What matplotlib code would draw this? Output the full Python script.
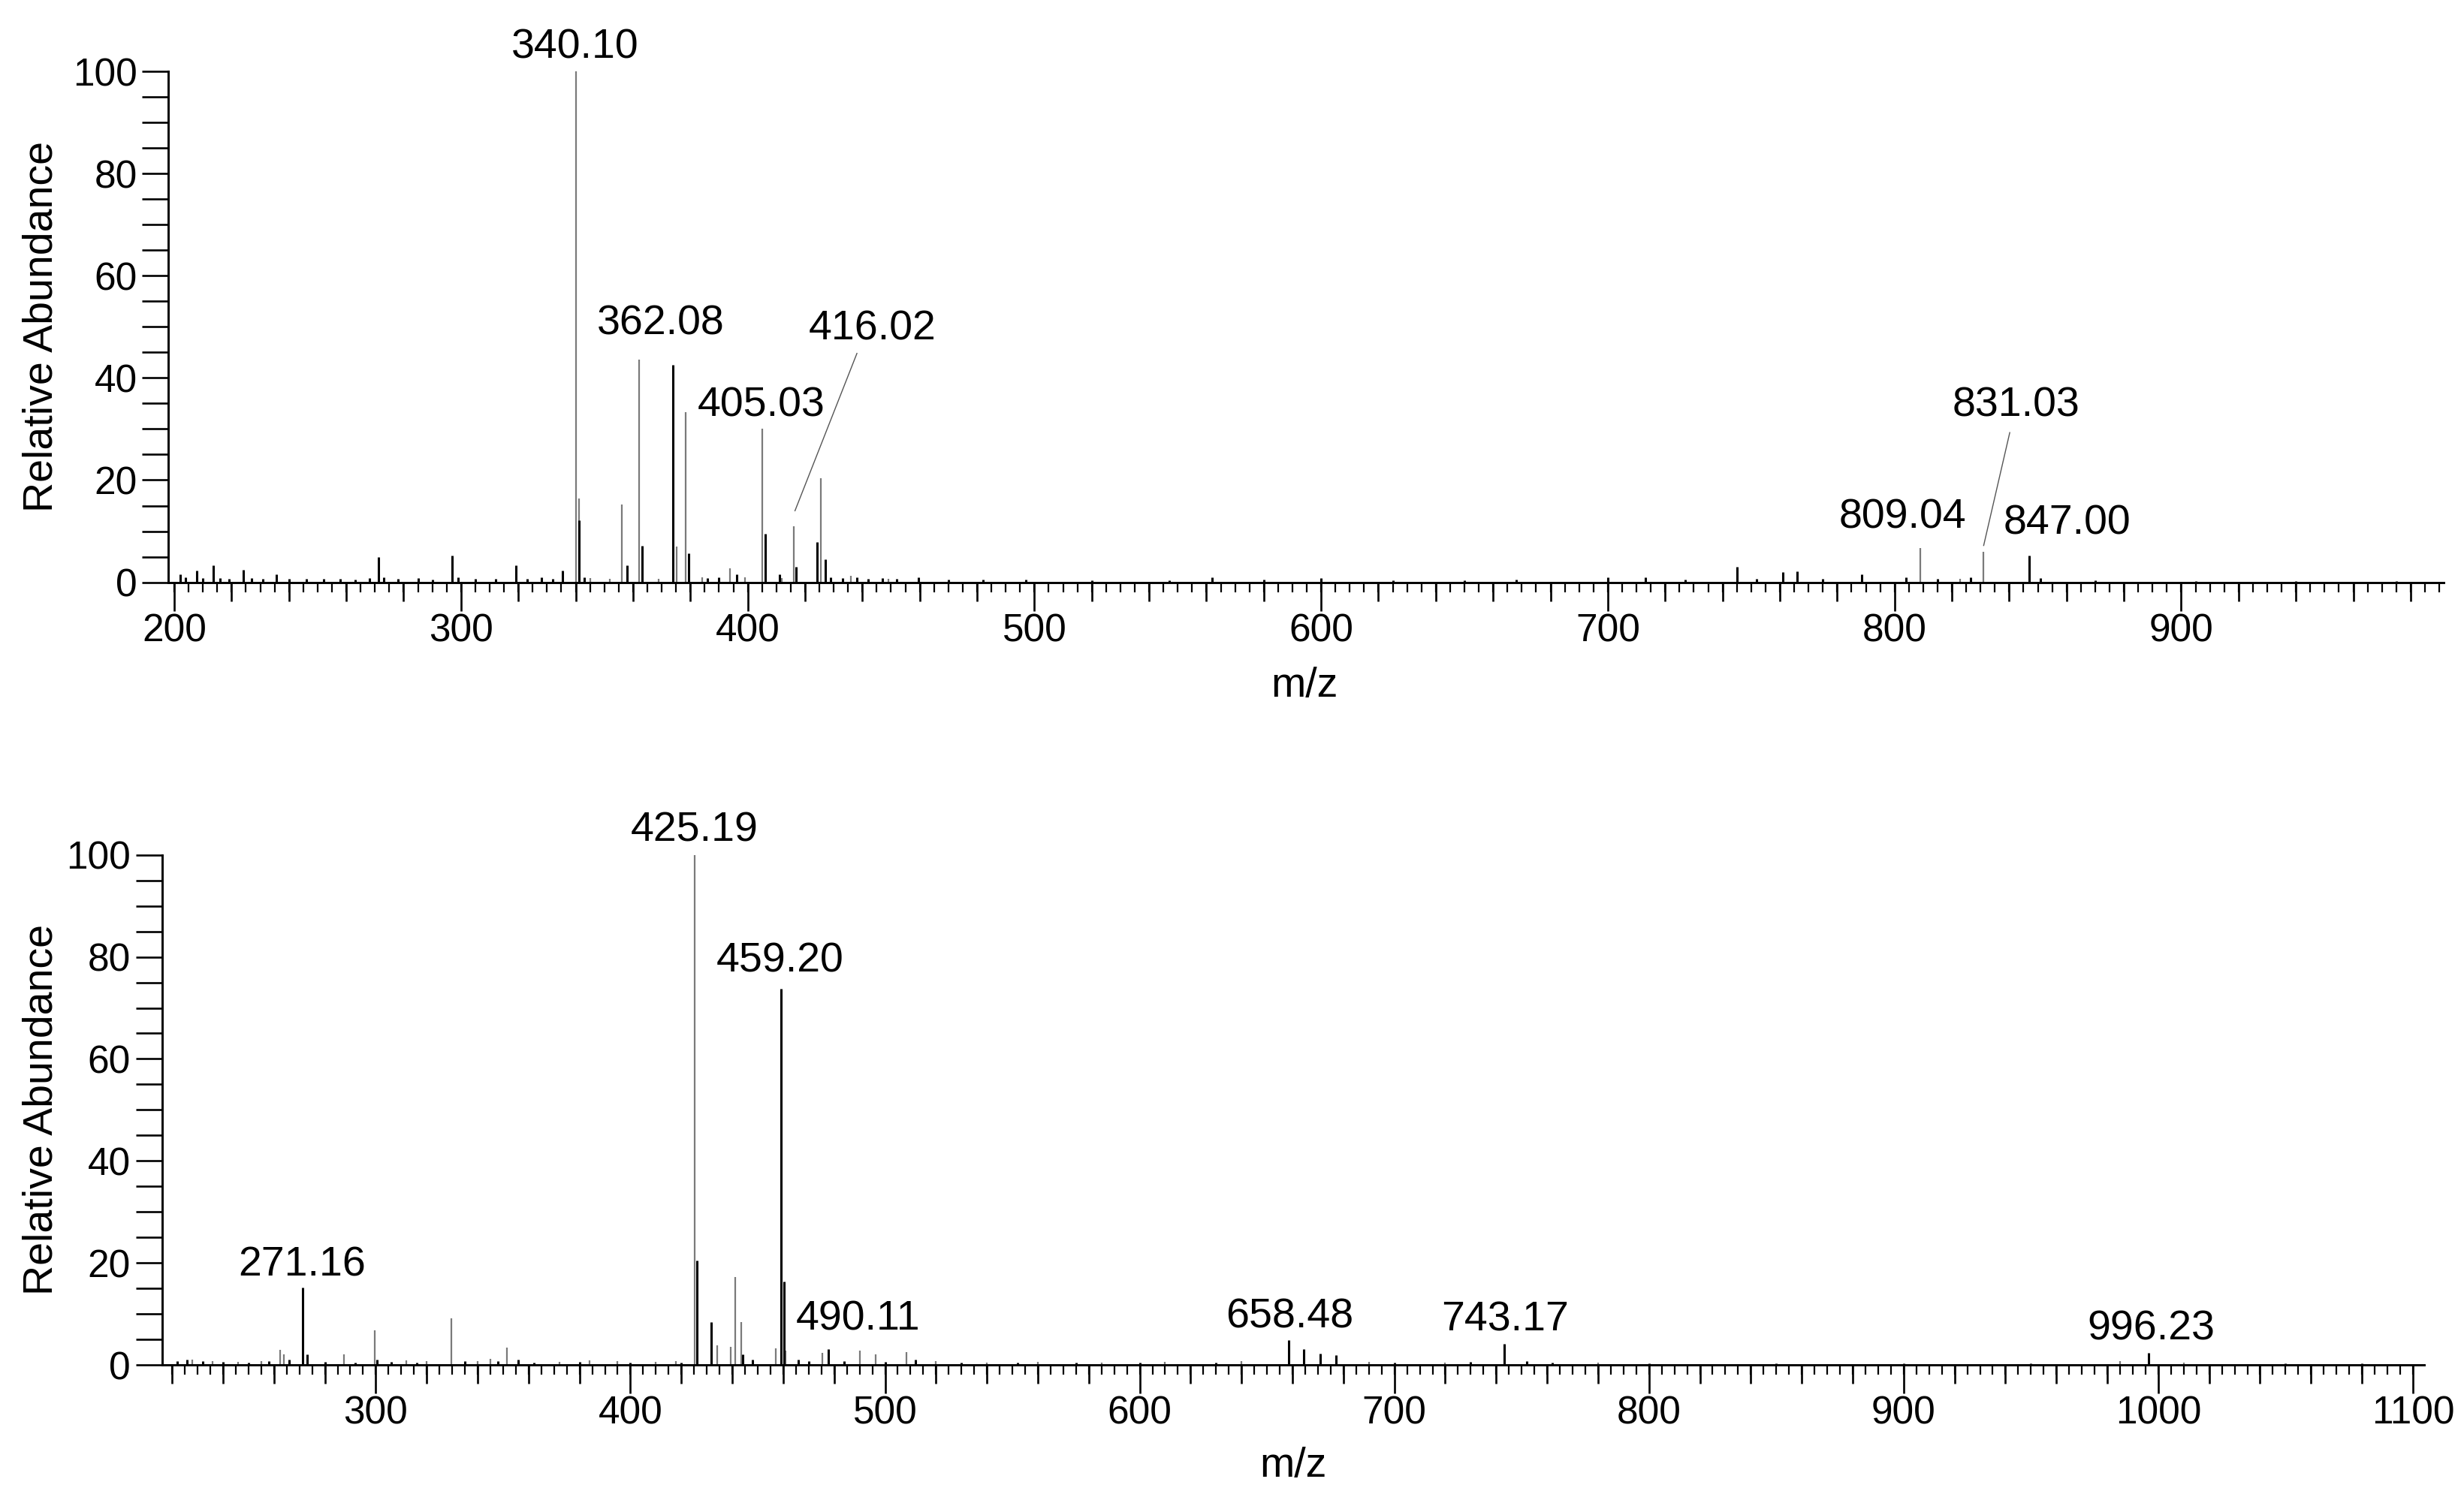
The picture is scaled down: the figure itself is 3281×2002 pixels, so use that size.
import numpy as np
import matplotlib
matplotlib.use("Agg")
import matplotlib.pyplot as plt
from matplotlib.ticker import MultipleLocator, NullLocator

plt.rcParams['font.family'] = ['Liberation Sans', 'DejaVu Sans']

# ---------------- top spectrum ----------------
top_gray_mz = [340.10, 341.1, 356.0, 362.08, 375.1, 378.3, 393.7, 405.03, 416.02,
               425.6, 809.04, 831.03, 345.0, 352.0, 369.0, 384.0, 399.0, 412.0,
               436.0, 449.0, 823.0]
top_gray_h = [100, 16.4, 15.2, 43.6, 7.0, 33.3, 2.8, 30.0, 11.0,
              20.3, 6.7, 6.0, 0.8, 0.6, 0.7, 1.0, 0.9, 0.8,
              1.2, 0.7, 0.6]

top_black_mz = [202, 204, 207.9, 210, 213.7, 216, 219, 224, 227, 231, 235.7, 240,
                246, 252, 258, 263, 268, 271.2, 273, 278, 285, 290, 297, 299, 305,
                312, 319.1, 323, 328, 332, 335.5, 341.2, 343, 358, 363.1, 374.0,
                379.3, 386, 390, 396.1, 406.0, 411, 417, 424.1, 427, 429, 433, 438,
                442, 447, 452, 459.5, 470, 482, 497, 520, 547, 562, 580, 600, 625,
                650, 668, 700, 713, 727, 745, 752, 761, 766, 775, 788.6, 804, 815,
                826.5, 847.00, 851, 870, 905, 940, 975]
top_black_h = [1.5, 1.0, 2.3, 0.8, 3.3, 0.8, 0.6, 2.5, 0.8, 0.7, 1.5, 0.6,
               0.7, 0.6, 0.7, 0.5, 0.8, 4.9, 1.0, 0.6, 0.8, 0.5, 5.2, 1.0, 0.6,
               0.7, 3.3, 0.6, 0.9, 0.7, 2.3, 12.1, 1.0, 3.3, 7.1, 42.5,
               5.6, 0.8, 1.0, 1.5, 9.5, 1.5, 3.0, 7.9, 4.5, 1.0, 0.8, 1.0,
               0.7, 0.8, 0.6, 1.0, 0.5, 0.5, 0.5, 0.4, 0.4, 0.9, 0.5, 0.8, 0.4,
               0.4, 0.5, 0.9, 1.0, 0.5, 3.0, 0.6, 2.0, 2.2, 0.7, 1.5, 1.0, 0.6,
               1.0, 5.2, 0.8, 0.4, 0.3, 0.3, 0.3]

# labels: text, x, y of label centre
top_labels = ["340.10", "362.08", "405.03", "416.02", "809.04", "831.03", "847.00"]
top_label_x = [339.9, 369.7, 404.8, 443.6, 802.7, 842.4, 860.3]
top_label_y = [104.6, 50.6, 34.6, 49.5, 12.7, 34.5, 11.5]
# leader lines (from peak to label)
top_leaders = [([416.5, 438.1], [14.0, 44.8]), ([831.1, 840.2], [7.2, 29.3])]

# ---------------- bottom spectrum ----------------
bot_gray_mz = [262.3, 264.0, 287.6, 299.6, 329.6, 351.4, 425.19, 434.0, 439.4,
               441.2, 443.6, 457.2, 461.0, 475.3, 490.11, 496.3, 508.4, 228, 236,
               246, 255, 312, 320, 340, 345, 372, 384, 395, 410, 418, 520, 540,
               560, 585, 610, 640, 690, 720, 780, 985, 1010]
bot_gray_h = [3.0, 2.0, 2.0, 6.8, 9.1, 3.4, 100, 3.8, 3.5,
              17.3, 8.4, 3.2, 2.8, 2.3, 2.8, 2.0, 2.5, 1.0, 0.8,
              0.6, 0.8, 0.9, 0.7, 0.8, 1.2, 0.6, 0.9, 0.7, 0.6, 0.8, 0.7, 0.5,
              0.6, 0.5, 0.6, 0.7, 0.6, 0.5, 0.5, 0.8, 0.5]

bot_black_mz = [222, 226, 232, 240, 250, 258, 266, 271.16, 273, 280, 292, 300.5,
                306, 316, 335, 348, 356, 362, 380, 400, 420, 426.2, 431.6, 444,
                448, 459.20, 460.2, 466, 470, 477.7, 484, 500, 512, 530, 552, 575,
                600, 630, 658.48, 664.4, 671, 677, 700, 730, 743.17, 752, 762, 800,
                850, 900, 950, 996.23, 1050, 1080]
bot_black_h = [0.8, 1.0, 0.7, 0.6, 0.5, 0.7, 1.0, 15.1, 2.0, 0.6, 0.5, 1.0,
               0.6, 0.5, 0.7, 0.8, 1.0, 0.5, 0.6, 0.4, 0.5, 20.4, 8.4, 2.0,
               1.0, 73.8, 16.3, 1.0, 0.8, 3.1, 0.8, 0.6, 1.0, 0.4, 0.4, 0.4,
               0.5, 0.4, 4.9, 3.1, 2.2, 1.9, 0.4, 0.6, 4.1, 0.8, 0.5, 0.3,
               0.3, 0.3, 0.3, 2.3, 0.3, 0.3]

bot_labels = ["425.19", "459.20", "271.16", "490.11", "658.48", "743.17", "996.23"]
bot_label_x = [425.1, 458.8, 271.0, 489.4, 658.8, 743.5, 997.1]
bot_label_y = [104.7, 79.1, 19.5, 8.9, 9.3, 8.7, 7.0]

GRAY = '#7a7a7a'
TICKFS = 37
LABFS = 40


def style_axes(ax, xmin, xmax, first_major):
    ax.set_xlim(xmin, xmax)
    ax.set_ylim(0, 100)
    for s in ['top', 'right']:
        ax.spines[s].set_visible(False)
    for s in ['left', 'bottom']:
        ax.spines[s].set_linewidth(2.1)
    ax.set_xticks(np.arange(first_major, xmax, 100))
    ax.xaxis.set_minor_locator(MultipleLocator(20))
    ax.yaxis.set_major_locator(MultipleLocator(20))
    ax.yaxis.set_minor_locator(MultipleLocator(5))
    ax.tick_params(axis='x', which='major', length=27.4, width=1.9,
                   labelsize=TICKFS, pad=2)
    ax.tick_params(axis='x', which='minor', length=18, width=1.9)
    ax.tick_params(axis='y', which='both', length=25, width=1.9,
                   labelsize=TICKFS, pad=5)
    # short ticks every 5 units
    sec = ax.secondary_xaxis('bottom')
    sec.xaxis.set_major_locator(MultipleLocator(5))
    sec.xaxis.set_minor_locator(NullLocator())
    sec.tick_params(axis='x', length=9.4, width=1.6, labelbottom=False)
    sec.spines['bottom'].set_visible(False)


fig = plt.figure(figsize=(32.81, 20.02), dpi=100)

ax1 = fig.add_axes([0.0684, 0.6126, 0.9233, 0.3399])
ax1.vlines(top_gray_mz, 0, top_gray_h, colors=GRAY, linewidth=1.6)
ax1.vlines(top_black_mz, 0, top_black_h, colors='black', linewidth=2.2)
for t, x, y in zip(top_labels, top_label_x, top_label_y):
    ax1.text(x, y, t, fontsize=LABFS, ha='center', va='center')
for xs, ys in top_leaders:
    ax1.plot(xs, ys, color='#555555', linewidth=1.0, clip_on=False)
style_axes(ax1, 198, 991.5, 200)

ax2 = fig.add_axes([0.0657, 0.0919, 0.9182, 0.3393])
ax2.vlines(bot_gray_mz, 0, bot_gray_h, colors=GRAY, linewidth=1.6)
ax2.vlines(bot_black_mz, 0, bot_black_h, colors='black', linewidth=2.2)
for t, x, y in zip(bot_labels, bot_label_x, bot_label_y):
    ax2.text(x, y, t, fontsize=LABFS, ha='center', va='center')
style_axes(ax2, 216, 1104.5, 300)

# axis titles
fig.text(56 / 3281, 1 - 435 / 2002, 'Relative Abundance', rotation=90,
         fontsize=LABFS, ha='center', va='center')
fig.text(56 / 3281, 1 - 1478 / 2002, 'Relative Abundance', rotation=90,
         fontsize=LABFS, ha='center', va='center')
fig.text(1737 / 3281, 1 - 914 / 2002, 'm/z', fontsize=LABFS, ha='center', va='center')
fig.text(1722 / 3281, 1 - 1953 / 2002, 'm/z', fontsize=LABFS, ha='center', va='center')

fig.savefig('out.png', dpi=100)
